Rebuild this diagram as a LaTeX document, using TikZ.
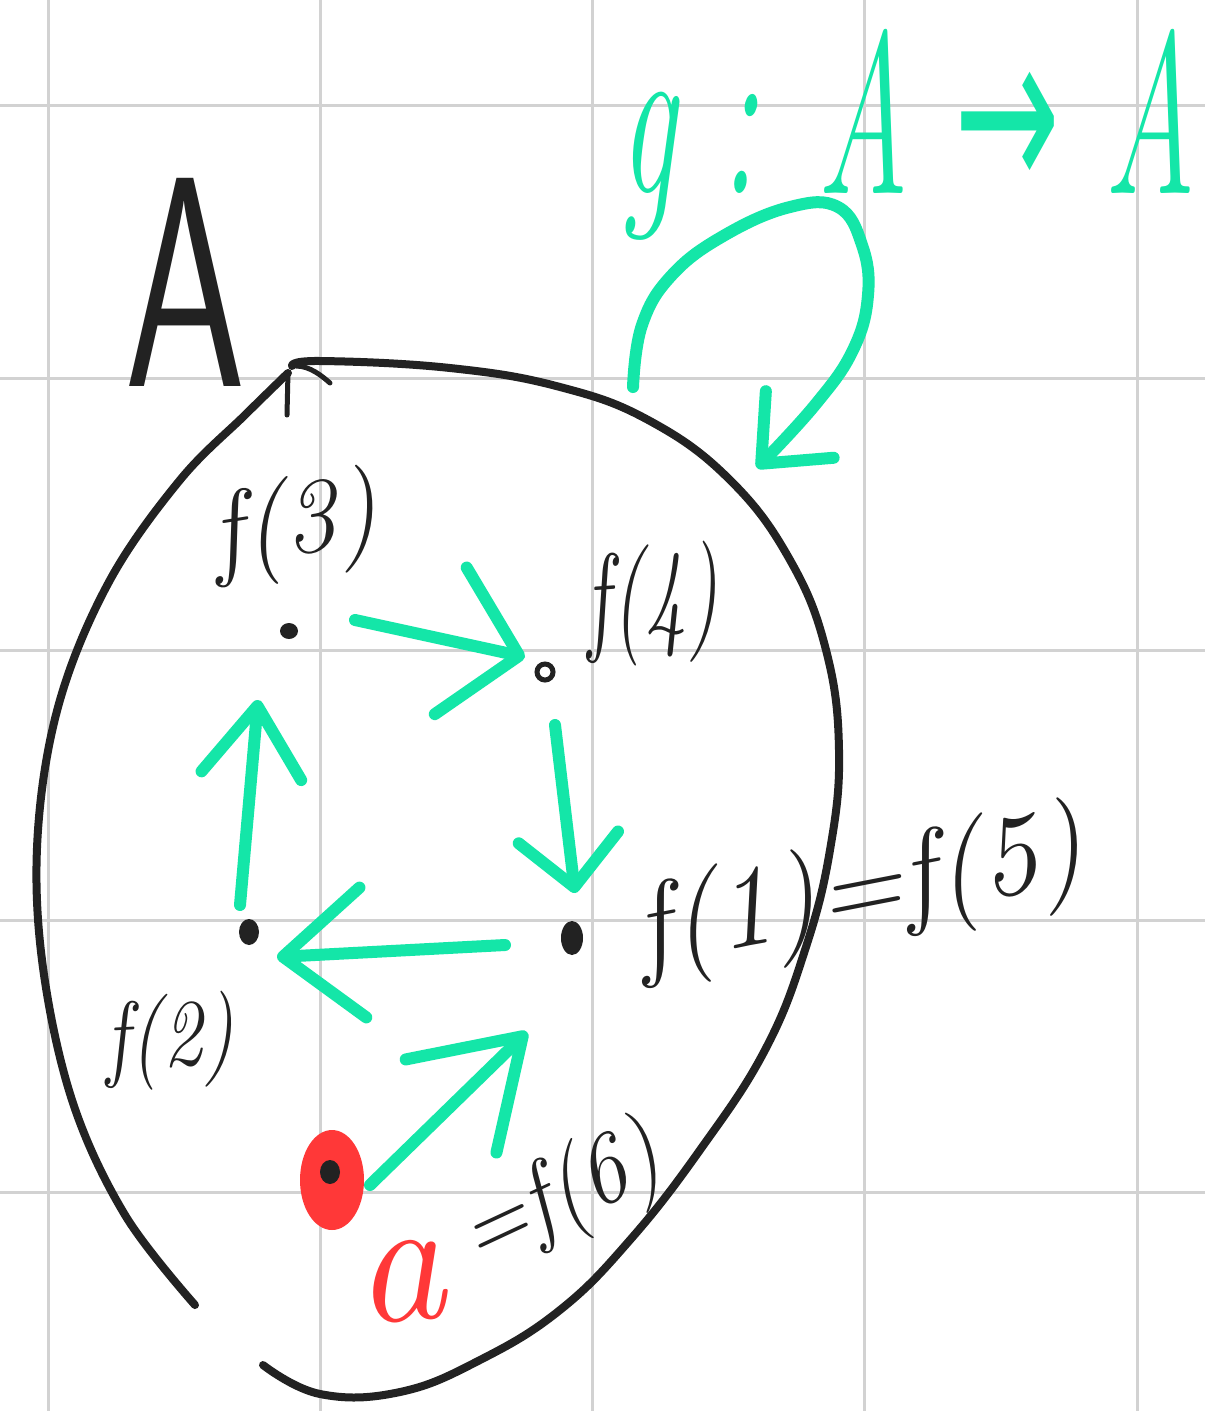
\documentclass[tikz,border=0pt]{standalone}
\usepackage{fontspec}
\newfontfamily\arrowfont{DejaVu Sans}
\usetikzlibrary{arrows.meta,shapes.geometric}
\definecolor{gridgray}{HTML}{D2D2D2}
\definecolor{ink}{HTML}{222222}
\definecolor{mint}{HTML}{14E6A8}
\definecolor{redink}{HTML}{FF3838}
\newcommand{\hwsize}[1]{\fontsize{#1}{#1}\selectfont}
\begin{document}
\begin{tikzpicture}[x=1pt,y=-1pt,
  gridline/.style={gridgray,line width=3pt},
  outline/.style={ink,line width=8pt,line cap=round,line join=round},
  garrow/.style={mint,line width=12pt,line cap=round,line join=round},
  lbl/.style={ink,inner sep=0pt},
  dotnode/.style={fill=ink,inner sep=0pt,ellipse,draw=none}]
\useasboundingbox (0,0) rectangle (1205,1411);
\fill[white] (0,0) rectangle (1205,1411);
% grid
\foreach \gx in {48,320,592,864,1137} \draw[gridline] (\gx,0) -- (\gx,1411);
\foreach \gy in {105,378,650,920,1192} \draw[gridline] (0,\gy) -- (1205,\gy);

% the set A (open closed curve)
\draw[outline] plot[smooth,tension=0.6] coordinates {(195,1305) (125,1215) (72,1100) (42,960) (38,830) (60,700) (110,580) (180,480) (245,415) (288,373)};
\draw[outline] plot[smooth,tension=0.7] coordinates {(292,366) (320,361) (450,368) (560,387) (650,421) (730,480) (790,560) (826,650) (839,750) (830,850) (805,950) (765,1050) (700,1150) (630,1240) (560,1310) (480,1360) (400,1392) (320,1394) (263,1365)};
\draw[outline,line width=5pt] (287,415) -- (288,372);
\draw[outline,line width=5pt] (296,366) .. controls (310,366) and (322,376) .. (330,383);

% label A
\node[lbl] (labA) at (185,282) {\hwsize{300}\sffamily\scalebox{0.65}[1]{A}};

% points
\node[dotnode,minimum width=18pt,minimum height=16pt] (p3) at (289,631) {};
\node[draw=ink,line width=5pt,circle,inner sep=0pt,minimum size=16pt] (p4) at (545,672) {};
\node[dotnode,minimum width=22pt,minimum height=34pt] (p1) at (572,938) {};
\node[dotnode,minimum width=20pt,minimum height=26pt] (p2) at (249,932) {};
\node[fill=redink,ellipse,inner sep=0pt,minimum width=64pt,minimum height=100pt] (pa) at (332,1180) {};
\fill[ink] ([shift={(-2,-8)}]pa.center) ellipse (10pt and 12pt);

% labels of points
\node[lbl,rotate=9] (l3) at (295,528) {\hwsize{105}\itshape f(3)};
\node[lbl,rotate=4] (l4) at (652,605) {\hwsize{120}\itshape\scalebox{0.7}[1]{f(4)}};
\node[lbl,rotate=11] (l1) at (860,895) {\hwsize{115}\itshape f(1)=f(5)};
\node[lbl,rotate=3] (l2) at (170,1042) {\hwsize{95}\itshape\scalebox{0.85}[1]{f(2)}};
\node[lbl,text=redink,rotate=5] (la) at (400,1282) {\hwsize{180}\itshape a};
\node[lbl,rotate=25] (l6) at (562,1198) {\hwsize{100}\itshape\scalebox{0.9}[1]{=f(6)}};

% g : A -> A
\node[lbl,text=mint] (lg) at (908,135) {\hwsize{230}\itshape\scalebox{0.55}[1]{g : A {\arrowfont →} A}};

% green arrows between points
\draw[garrow,-{Straight Barb[length=70pt,width=150pt,round]}] ([shift={(66,-11)}]p3.center) -- ([shift={(-20,-15)}]p4.center);
\draw[garrow,-{Straight Barb[length=50pt,width=100pt,round]}] ([shift={(10,53)}]p4.center) -- ([shift={(3,-45)}]p1.center);
\draw[garrow,-{Straight Barb[length=80pt,width=130pt,round]}] ([shift={(-67,7)}]p1.center) -- ([shift={(28,25)}]p2.center);
\draw[garrow,-{Straight Barb[length=70pt,width=100pt,round]}] ([shift={(-9,-27)}]p2.center) -- ([shift={(-31,69)}]p3.center);
\draw[garrow,-{Straight Barb[length=100pt,width=130pt,round]}] ([shift={(38,5)}]pa.center) -- ([shift={(-45,94)}]p1.center);

% self map loop
\draw[garrow,-{Straight Barb[length=55pt,width=95pt,round]}] plot[smooth,tension=0.7] coordinates {(633,387) (642,325) (672,275) (725,235) (790,207) (838,207) (862,245) (868,295) (853,350) (815,405) (757,468)};
\end{tikzpicture}
\end{document}
